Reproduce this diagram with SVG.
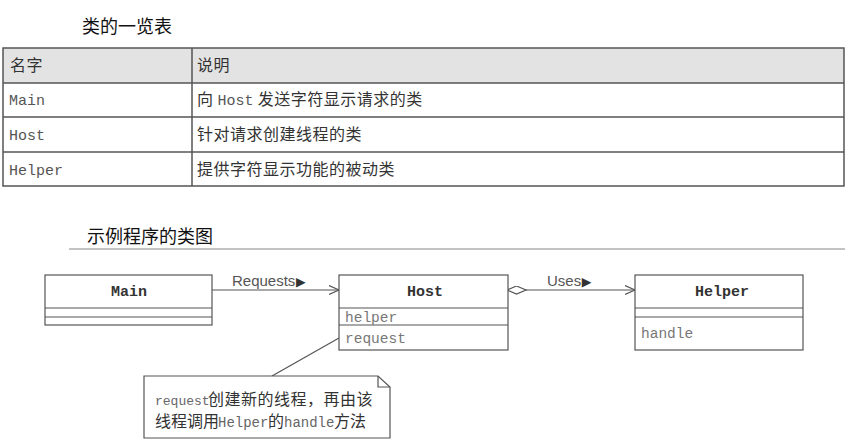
<svg xmlns="http://www.w3.org/2000/svg" width="853" height="448" viewBox="0 0 853 448">
<defs>
<style>
.cjk{font-family:"Noto Sans CJK SC","Noto Sans",sans-serif;fill:#333;}
.ttl{font-size:18px;font-weight:400;fill:#111;}
.cell{font-size:16px;letter-spacing:0.5px;}
.mono{font-family:"Liberation Mono","DejaVu Sans Mono",monospace;fill:#555;}
.tm{font-size:15px;}
.bold{font-family:"Liberation Mono","DejaVu Sans Mono",monospace;font-weight:bold;font-size:15px;fill:#333;}
.attr{font-family:"Liberation Mono","DejaVu Sans Mono",monospace;font-size:14.5px;fill:#777;}
.lbl{font-family:"Liberation Sans","Arial",sans-serif;font-size:15px;fill:#555;}
.tri{font-family:"DejaVu Sans",sans-serif;font-size:12.5px;fill:#333;}
.box{fill:#fff;stroke:#555;stroke-width:1.2;}
.ln{stroke:#555;stroke-width:1.2;fill:none;}
.grid{stroke:#555;stroke-width:1.5;fill:none;}
.note{font-size:16px;}
.nm{font-family:"Liberation Mono","DejaVu Sans Mono",monospace;font-size:13px;fill:#666;}
.nm2{font-family:"Liberation Mono","DejaVu Sans Mono",monospace;font-size:14px;fill:#666;}
</style>
<marker id="open" markerUnits="userSpaceOnUse" markerWidth="12" markerHeight="12" refX="10" refY="5" orient="auto">
<path d="M0,0.5 L10,5 L0,9.5" fill="none" stroke="#555" stroke-width="1.2"/>
</marker>
<marker id="diamond" markerUnits="userSpaceOnUse" markerWidth="22" markerHeight="10" refX="0.5" refY="4.5" orient="auto">
<path d="M0.5,4.5 L10,0.5 L19.5,4.5 L10,8.5 Z" fill="#fff" stroke="#555" stroke-width="1.2"/>
</marker>
</defs>
<rect width="853" height="448" fill="#fff"/>

<g id="table">
<text class="cjk ttl" x="82" y="33">类的一览表</text>
<rect x="3" y="48" width="841" height="35" fill="#e3e3e3"/>
<rect x="3" y="48" width="841" height="138" class="grid"/>
<line x1="3" y1="83" x2="844" y2="83" class="grid"/>
<line x1="3" y1="117" x2="844" y2="117" class="grid"/>
<line x1="3" y1="152" x2="844" y2="152" class="grid"/>
<line x1="192" y1="48" x2="192" y2="186" class="grid"/>
<text class="cjk cell" x="10" y="71">名字</text>
<text class="cjk cell" x="197" y="71">说明</text>
<text class="mono tm" x="9" y="105">Main</text>
<text class="cjk cell" x="197" y="105">向 <tspan class="mono tm" letter-spacing="0">Host</tspan> 发送字符显示请求的类</text>
<text class="mono tm" x="9" y="140">Host</text>
<text class="cjk cell" x="197" y="140">针对请求创建线程的类</text>
<text class="mono tm" x="9" y="175">Helper</text>
<text class="cjk cell" x="197" y="175">提供字符显示功能的被动类</text>
</g>

<g id="diagram-title">
<text class="cjk ttl" x="87" y="243">示例程序的类图</text>
<line x1="69" y1="249" x2="845" y2="249" stroke="#888" stroke-width="1.2"/>
</g>

<g id="connectors">
<line x1="212" y1="290" x2="339" y2="290" class="ln" marker-end="url(#open)"/>
<text class="lbl" x="232" y="286">Requests<tspan class="tri" dx="0.5">▶</tspan></text>
<line x1="507" y1="290" x2="635" y2="290" class="ln" marker-start="url(#diamond)" marker-end="url(#open)"/>
<text class="lbl" x="547" y="286">Uses<tspan class="tri" dx="0.5">▶</tspan></text>
<line x1="272" y1="376" x2="339" y2="338" class="ln"/>
</g>

<g id="Main">
<rect x="45" y="275" width="167" height="50" class="box"/>
<line x1="45" y1="308" x2="212" y2="308" class="ln"/>
<line x1="45" y1="317" x2="212" y2="317" class="ln"/>
<text class="bold" x="129" y="296" text-anchor="middle">Main</text>
</g>

<g id="Host">
<rect x="339" y="275" width="169" height="75" class="box"/>
<line x1="339" y1="308" x2="508" y2="308" class="ln"/>
<line x1="339" y1="325" x2="508" y2="325" class="ln"/>
<text class="bold" x="425" y="296" text-anchor="middle">Host</text>
<text class="attr" x="345" y="322">helper</text>
<text class="attr" x="345" y="343">request</text>
</g>

<g id="Helper">
<rect x="635" y="275" width="168" height="75" class="box"/>
<line x1="635" y1="308" x2="803" y2="308" class="ln"/>
<line x1="635" y1="317" x2="803" y2="317" class="ln"/>
<text class="bold" x="722" y="296" text-anchor="middle">Helper</text>
<text class="attr" x="641" y="338">handle</text>
</g>

<g id="note">
<path d="M144,376 L378,376 L390,387 L390,438 L144,438 Z" class="box"/>
<path d="M378,376 L378,387 L390,387" class="ln"/>
<text class="cjk note" y="405"><tspan class="nm" x="155">request</tspan><tspan x="208" letter-spacing="0.5">创建新的线程，再由该</tspan></text>
<text class="cjk note" y="427"><tspan x="155" letter-spacing="0">线程调用</tspan><tspan class="nm2" x="218">Helper</tspan><tspan x="268">的</tspan><tspan class="nm2" x="284">handle</tspan><tspan x="334">方法</tspan></text>
</g>
</svg>
